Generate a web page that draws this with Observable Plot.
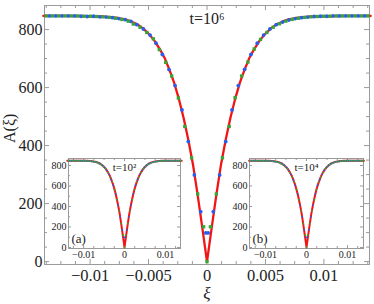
<!DOCTYPE html>
<html>
<head>
<meta charset="utf-8">
<script src="https://cdn.jsdelivr.net/npm/d3@7"></script>
<script src="https://cdn.jsdelivr.net/npm/@observablehq/plot@0.6"></script>
<style>
  html, body { margin: 0; padding: 0; background: white; }
  #wrap { position: relative; width: 374px; height: 304px; }
  #wrap svg { position: absolute; }
</style>
</head>
<body>
<div id="wrap"></div>
<script>
// ---------------- data ----------------
const redXi = [-0.014,-0.012,-0.010,-0.009,-0.008,-0.0075,-0.007,-0.0065,-0.006,-0.0055,-0.005,-0.0045,-0.004,-0.0036,-0.0032,-0.0028,-0.0024,-0.002,-0.0016,-0.0012,-0.0008,-0.0004,0,
  0.0004,0.0008,0.0012,0.0016,0.002,0.0024,0.0028,0.0032,0.0036,0.004,0.0045,0.005,0.0055,0.006,0.0065,0.007,0.0075,0.008,0.009,0.010,0.012,0.014];
const redA = [847,847,846,845,842,839,835,828,819,805,786,762,730,700,660,615,560,495,420,335,230,116,0,
  116,230,335,420,495,560,615,660,700,730,762,786,805,819,828,835,839,842,845,846,847,847];

const blueXi = [-0.01348,-0.01294,-0.0124,-0.01186,-0.01132,-0.01078,-0.01024,-0.0097,-0.00916,-0.00862,-0.00808,-0.00754,-0.007,-0.0065,-0.006,-0.00544,-0.00487,-0.00436,-0.00382,-0.00325,-0.00273,-0.00214,-0.0016,-0.00108,-0.00054,-0.0001,
  0.0001,0.00054,0.00108,0.0016,0.00214,0.00268,0.00322,0.00376,0.0043,0.00484,0.00538,0.00592,0.00646,0.007,0.00754,0.00808,0.00862,0.00916,0.0097,0.01024,0.01078,0.01132,0.01186,0.0124,0.01294,0.01348];
const blueA = [847,847,847,847,847,846,845,846,844,843,841,838,834,828,817,802,781,753,714,662,607,523,414,299,172,99,
  99,172,299,414,523,607,663,714,753,781,802,817,826,833,838,841,843,845,846,846,847,847,847,847,847,847];

const greenXi = [-0.01376,-0.01322,-0.01268,-0.01214,-0.0116,-0.01106,-0.01052,-0.00998,-0.00944,-0.0089,-0.00836,-0.00782,-0.00728,-0.00674,-0.0063,-0.00573,-0.00515,-0.00459,-0.00408,-0.00353,-0.00302,-0.00245,-0.0019,-0.00132,-0.0008,-0.00029,0,
  0.00029,0.0008,0.00132,0.0019,0.0024,0.00296,0.0035,0.00404,0.00458,0.00512,0.00566,0.0062,0.00674,0.00728,0.00782,0.00836,0.0089,0.00944,0.00998,0.01052,0.01106,0.0116,0.01214,0.01268,0.01322,0.01376];
const greenA = [847,847,847,847,847,847,846,846,845,844,842,839,835,829,819,808,790,768,731,687,640,564,466,358,233,120,0,
  120,233,358,466,565,640,688,733,766,790,808,820,829,835,839,842,844,845,846,846,847,847,847,847,847,847];

// axes ticks / labels
const xMajor = [-0.01,-0.005,0,0.005,0.01];
const xMajorLabels = ["\u22120.01","\u22120.005","0","0.005","0.01"];
const xMinor = [-0.01375,-0.0125,-0.01125,-0.00875,-0.0075,-0.00625,-0.00375,-0.0025,-0.00125,0.00125,0.0025,0.00375,0.00625,0.0075,0.00875,0.01125,0.0125,0.01375];
const yMajor = [0,200,400,600,800];
const yMinor = [50,100,150,250,300,350,450,500,550,650,700,750,850];

const insetXMajor = [-0.01,0,0.01];
const insetXLabels = ["\u22120.01","0","0.01"];
const insetXMinor = [-0.0125,-0.0075,-0.005,-0.0025,0.0025,0.005,0.0075,0.0125];
const insetYMajor = [0,200,400,600,800];
const insetYMinor = [100,300,500,700];

const mainTitle = "t=10\u2076";
const insetTitles = ["t=10\u00b2","t=10\u2074"];
const insetTags = ["(a)","(b)"];

// ---------------- build ----------------
const red = redXi.map((x,i)=>({x, y: redA[i]}));
const blue = blueXi.map((x,i)=>({x, y: blueA[i]}));
const green = greenXi.map((x,i)=>({x, y: greenA[i]}));

const RED = "#f01616", BLUE = "#2a5cf0", GREEN = "#3aa535", GRAY = "#9a9a9a";
const FONT = "'Liberation Serif', 'DejaVu Serif', serif";

function tickMarks(innerW, innerH, xs, ys, len) {
  return [
    Plot.ruleY(ys, {y: d => d, insetRight: innerW - len, stroke: GRAY}),
    Plot.ruleY(ys, {y: d => d, insetLeft: innerW - len, stroke: GRAY}),
    Plot.ruleX(xs, {x: d => d, insetTop: innerH - len, stroke: GRAY}),
    Plot.ruleX(xs, {x: d => d, insetBottom: innerH - len, stroke: GRAY})
  ];
}

const W = 374, H = 304, mL = 44, mR = 5, mT = 5, mB = 40;
const iW = W - mL - mR, iH = H - mT - mB;

const main = Plot.plot({
  width: W, height: H,
  marginLeft: mL, marginRight: mR, marginTop: mT, marginBottom: mB,
  x: {domain: [-0.0139, 0.0139]},
  y: {domain: [-10, 883]},
  style: {fontFamily: FONT, fontSize: "16px", background: "white", color: "#222"},
  marks: [
    ...tickMarks(iW, iH, xMajor, yMajor, 5),
    ...tickMarks(iW, iH, xMinor, yMinor, 3),
    Plot.frame({stroke: GRAY}),
    Plot.axisY({ticks: yMajor, tickSize: 0, tickPadding: 2, label: null, fontSize: 16}),
    Plot.axisX({ticks: xMajor, tickSize: 0, tickPadding: 5, label: null, fontSize: 16.5,
      tickFormat: d => xMajorLabels[xMajor.indexOf(d)]}),
    Plot.text(["A(\u03be)"], {frameAnchor: "left", dx: -35, dy: 8, rotate: -90, fontSize: 16, lineAnchor: "middle"}),
    Plot.text(["\u03be"], {frameAnchor: "bottom", dy: 29, fontSize: 17, fontStyle: "italic", lineAnchor: "middle"}),
    Plot.text([mainTitle], {frameAnchor: "top-left", textAnchor: "start", lineAnchor: "middle", dx: 145, dy: 13, fontSize: 16}),
    Plot.line(red, {x: "x", y: "y", stroke: RED, strokeWidth: 2.3}),
    Plot.dot(blue, {x: "x", y: "y", r: 1.9, fill: BLUE}),
    Plot.dot(green, {x: "x", y: "y", r: 1.9, fill: GREEN, symbol: "square"})
  ]
});
main.style.left = "0px"; main.style.top = "0px";
document.getElementById("wrap").appendChild(main);

function inset(k, left, xDomain, marginRight) {
  const w = 140, h = 115, ml = 24, mt = 8, mb = 17;
  const iw = w - ml - marginRight, ih = h - mt - mb;
  const p = Plot.plot({
    width: w, height: h,
    marginLeft: ml, marginRight: marginRight, marginTop: mt, marginBottom: mb,
    x: {domain: xDomain},
    y: {domain: [-10, 868]},
    style: {fontFamily: FONT, fontSize: "10px", background: "transparent", color: "#222", overflow: "visible"},
    marks: [
      Plot.frame({fill: "white"}),
      ...tickMarks(iw, ih, insetXMajor, insetYMajor, 3),
      ...tickMarks(iw, ih, insetXMinor, insetYMinor, 2),
      Plot.frame({stroke: GRAY}),
      Plot.axisY({ticks: insetYMajor, tickSize: 0, tickPadding: 2, label: null, fontSize: 10}),
      Plot.axisX({ticks: insetXMajor, tickSize: 0, tickPadding: 2, label: null, fontSize: 10,
        tickFormat: d => insetXLabels[insetXMajor.indexOf(d)]}),
      Plot.line(red, {x: "x", y: "y", stroke: RED, strokeWidth: 2}),
      Plot.dot(blue, {x: "x", y: "y", r: 0.9, fill: BLUE}),
      Plot.dot(green, {x: "x", y: "y", r: 0.9, fill: GREEN}),
      Plot.text([insetTitles[k]], {frameAnchor: "top", lineAnchor: "middle", dx: 0, dy: 9, fontSize: 11}),
      Plot.text([insetTags[k]], {frameAnchor: "bottom-left", textAnchor: "start", lineAnchor: "middle", dx: 3, dy: -10, fontSize: 13})
    ]
  });
  p.style.left = left + "px"; p.style.top = "150px";
  document.getElementById("wrap").appendChild(p);
}
inset(0, 44, [-0.0137, 0.0137], 4);
inset(1, 225, [-0.0139, 0.0139], 2);
</script>
</body>
</html>
